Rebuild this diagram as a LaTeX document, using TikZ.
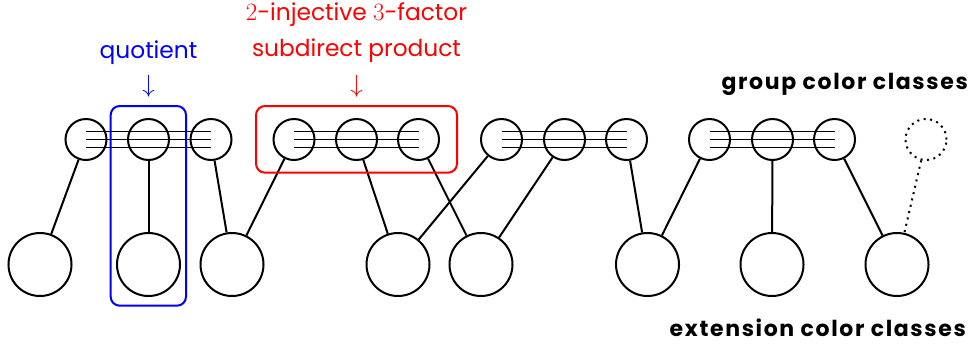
\documentclass[tikz,border=0pt]{standalone}
\usepackage{fontspec}
\setmainfont{Poppins}
\begin{document}
\begin{tikzpicture}[x=1pt,y=-1pt,
  grp/.style={circle,draw,line width=2pt,minimum size=41pt,inner sep=0pt},
  ext/.style={circle,draw,line width=2pt,minimum size=63pt,inner sep=0pt},
  sparse/.style={dash pattern=on 2pt off 4.5pt},
  ghost/.style={circle,draw,line width=2pt,sparse,minimum size=41pt,inner sep=0pt},
  link/.style={line width=2pt},
  bar/.style={line width=1pt},
  lbl/.style={inner sep=0pt,font=\fontsize{23.3}{27}\selectfont},
  arr/.style={inner sep=0pt,font=\fontsize{27}{30}\selectfont},
  tag/.style={inner sep=0pt,font=\fontsize{22}{26}\selectfont\bfseries\addfontfeatures{LetterSpace=7.5}},
  frame/.style={line width=2pt,rounded corners=9pt}]
\useasboundingbox (0,0) rectangle (973,349);

% group color classes (top row)
\foreach \n/\x in {1/86,2/148.5,3/211,4/294,5/356.5,6/418.5,7/501.5,8/564.5,9/626.5,10/709.5,11/772.5,12/834.5}
  \node[grp] (t\n) at (\x,139.5) {};
\node[ghost] (t13) at (926,139.5) {};

% extension color classes (bottom row)
\foreach \n/\x in {1/40,2/148.5,3/232,4/398,5/481,6/647.5,7/772,8/897}
  \node[ext] (b\n) at (\x,264.5) {};

% triple bars joining each block of three
\foreach \a/\b in {1/3,4/6,7/9,10/12}
  \foreach \d in {-8,0,8}
    \draw[bar] ([yshift=-\d pt]t\a.center) -- ([yshift=-\d pt]t\b.center);

% links between the rows
\foreach \a/\b in {1/1,2/2,3/3,4/3,5/4,6/5,7/4,8/5,9/6,10/6,11/7,12/8}
  \draw[link] (t\a) -- (b\b);
\draw[link,sparse] (t13) -- (b8);

% quotient frame
\draw[frame,blue] (110.7,106) rectangle (186,305.7);
\node[lbl,blue,anchor=base] (qlab) at (148.5,58) {quotient};
\node[arr,blue] (qarr) at (148.5,86.5) {$\downarrow$};

% subdirect product frame
\draw[frame,red] (256,106) rectangle (457,172.7);
\node[lbl,red,anchor=base] (slab1) at (356.5,20) {$2$-injective $3$-factor};
\node[lbl,red,anchor=base] (slab2) at (356.5,56.7) {subdirect product};
\node[arr,red] (sarr) at (356.5,86.5) {$\downarrow$};

% row captions
\node[tag,anchor=base east] (gcap) at (968,89) {group color classes};
\node[tag,anchor=base east] (ecap) at (966,336.7) {extension color classes};
\end{tikzpicture}
\end{document}
